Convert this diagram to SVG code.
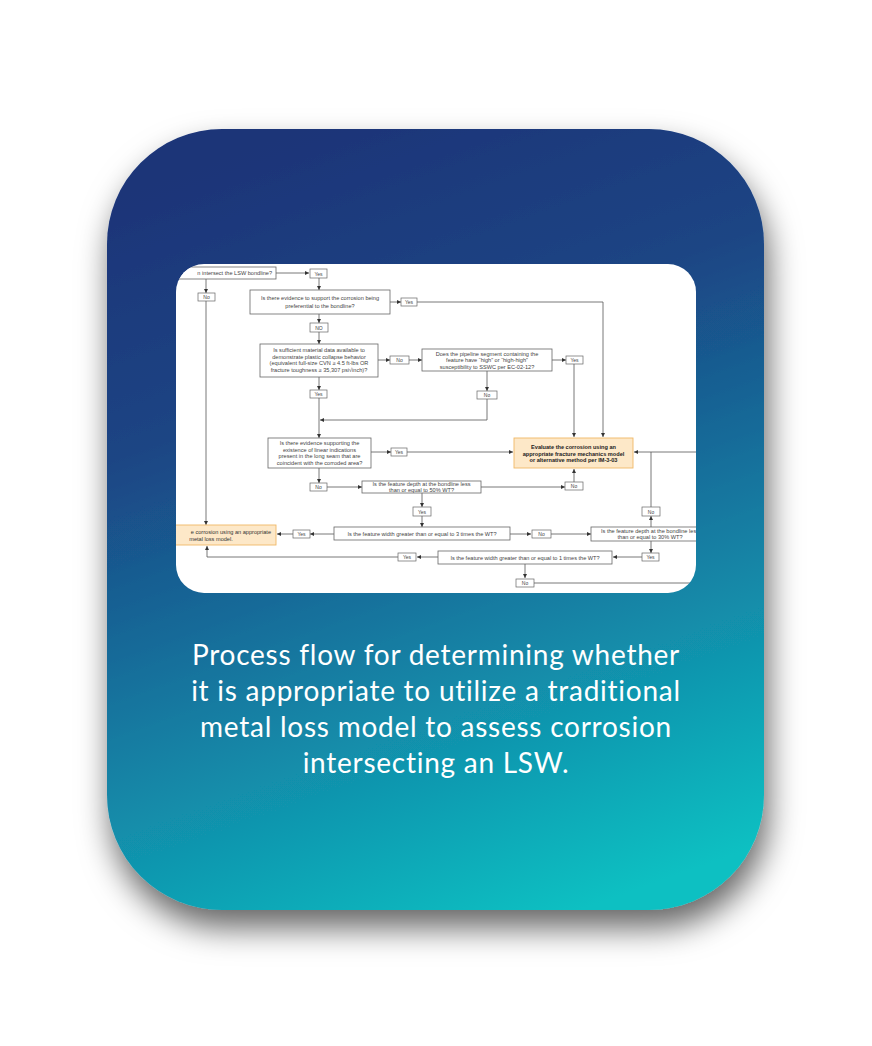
<svg xmlns="http://www.w3.org/2000/svg" width="872" height="1046" viewBox="0 0 872 1046">
<defs>
<linearGradient id="bg" gradientUnits="userSpaceOnUse" x1="300" y1="129" x2="580" y2="910">
<stop offset="0" stop-color="#1b3478"/>
<stop offset="0.3" stop-color="#1b4584"/>
<stop offset="0.55" stop-color="#176f9b"/>
<stop offset="0.8" stop-color="#109bb1"/>
<stop offset="1" stop-color="#0cc0c2"/>
</linearGradient>
<filter id="sh" x="-20%" y="-20%" width="140%" height="140%">
<feDropShadow dx="4" dy="18" stdDeviation="16" flood-color="#000" flood-opacity="0.6"/>
</filter>
<clipPath id="clip"><rect x="176" y="264" width="520" height="329" rx="28"/></clipPath>
<marker id="a" viewBox="0 0 6 6" refX="6" refY="3" markerUnits="userSpaceOnUse" markerWidth="4" markerHeight="4" orient="auto"><path d="M0,0L6,3L0,6z" fill="#333"/></marker>
</defs>
<style>
.box{fill:#fff;stroke:#666;stroke-width:0.8}
.lb{fill:#fff;stroke:#666;stroke-width:0.7}
.or{fill:#fde8c8;stroke:#f0b866;stroke-width:0.9}
.t{font-family:"Liberation Sans",Arial,sans-serif;font-size:5.6px;fill:#444;text-anchor:middle}
.s{font-family:"Liberation Sans",Arial,sans-serif;font-size:5px;fill:#444;text-anchor:middle}
.b{font-family:"Liberation Sans",Arial,sans-serif;font-size:5.6px;fill:#222;font-weight:bold;text-anchor:middle}
.c{fill:none;stroke:#555;stroke-width:0.8}
.ca{fill:none;stroke:#555;stroke-width:0.8;marker-end:url(#a)}
.cap{font-family:Lato,"Open Sans",sans-serif;font-size:28px;letter-spacing:0.75px;fill:#fff;text-anchor:middle}
</style>

<rect id="card" x="107" y="129" width="657" height="781" rx="115" fill="url(#bg)" filter="url(#sh)"/>

<g id="flow" clip-path="url(#clip)">
<rect x="176" y="264" width="520" height="329" fill="#fff"/>

<g id="connectors">
<path class="ca" d="M276,273H309"/>
<path class="ca" d="M319,278V290"/>
<path class="ca" d="M206,279V293"/>
<path class="ca" d="M206,301V525"/>
<path class="ca" d="M390,302H401"/>
<path class="ca" d="M417,302H603V437"/>
<path class="ca" d="M319,314V323"/>
<path class="ca" d="M319,332V344"/>
<path class="ca" d="M378,360H390"/>
<path class="ca" d="M409,360H422"/>
<path class="ca" d="M552,360H566"/>
<path class="ca" d="M574,364V437"/>
<path class="ca" d="M487,371V391"/>
<path class="ca" d="M487,399V420H320"/>
<path class="ca" d="M319,377V390"/>
<path class="ca" d="M319,398V438"/>
<path class="ca" d="M371,452H391"/>
<path class="ca" d="M407,452H513"/>
<path class="ca" d="M700,452H634"/>
<path class="c" d="M651,507V452"/>
<path class="ca" d="M651,527V516"/>
<path class="ca" d="M319,468V483"/>
<path class="ca" d="M327,487H362"/>
<path class="ca" d="M481,487H565"/>
<path class="ca" d="M574,482V469"/>
<path class="ca" d="M422,493V507"/>
<path class="ca" d="M422,516V527"/>
<path class="ca" d="M334,534H310"/>
<path class="ca" d="M293,534H277"/>
<path class="ca" d="M510,534H531"/>
<path class="ca" d="M551,534H591"/>
<path class="ca" d="M651,541V553"/>
<path class="ca" d="M642,557H613"/>
<path class="ca" d="M438,557H417"/>
<path class="ca" d="M398,557H207V546"/>
<path class="ca" d="M525,564V578"/>
<path class="c" d="M534,583H700"/>
</g>

<g id="n1"><rect class="box" x="140" y="267" width="136" height="12"/><text class="t" x="272" y="275" style="text-anchor:end">n intersect the LSW bondline?</text></g>
<g id="y1"><rect class="lb" x="310" y="269" width="17" height="9"/><text class="s" x="318.5" y="275.5">Yes</text></g>
<g id="no1"><rect class="lb" x="198" y="293" width="17" height="8"/><text class="s" x="206.5" y="299">No</text></g>
<g id="n2"><rect class="box" x="250" y="290" width="140" height="24"/><text class="t" x="320" y="300">Is there evidence to support the corrosion being</text><text class="t" x="320" y="307.5">preferential to the bondline?</text></g>
<g id="y2"><rect class="lb" x="401" y="298" width="16" height="8"/><text class="s" x="409" y="304">Yes</text></g>
<g id="no2"><rect class="lb" x="310" y="323" width="18" height="9"/><text class="s" x="319" y="329.5">NO</text></g>
<g id="n3"><rect class="box" x="260" y="344" width="118" height="33"/><text class="t" x="319" y="352">Is sufficient material data available to</text><text class="t" x="319" y="358.5">demonstrate plastic collapse behavior</text><text class="t" x="319" y="365">(equivalent full-size CVN ≥ 4.5 ft-lbs OR</text><text class="t" x="319" y="371.5">fracture toughness ≥ 35,307 psi√inch)?</text></g>
<g id="no3"><rect class="lb" x="390" y="356" width="19" height="8"/><text class="s" x="399.5" y="362">No</text></g>
<g id="n4"><rect class="box" x="422" y="349" width="130" height="22"/><text class="t" x="487" y="355.5">Does the pipeline segment containing the</text><text class="t" x="487" y="362">feature have “high” or “high-high”</text><text class="t" x="487" y="368.5">susceptibility to SSWC per EC-02-12?</text></g>
<g id="y3"><rect class="lb" x="566" y="356" width="17" height="8"/><text class="s" x="574.5" y="362">Yes</text></g>
<g id="no4"><rect class="lb" x="477" y="391" width="20" height="8"/><text class="s" x="487" y="397">No</text></g>
<g id="y4"><rect class="lb" x="310" y="390" width="17" height="8"/><text class="s" x="318.5" y="396">Yes</text></g>
<g id="n5"><rect class="box" x="268" y="438" width="103" height="30"/><text class="t" x="319.5" y="445">Is there evidence supporting the</text><text class="t" x="319.5" y="451.5">existence of linear indications</text><text class="t" x="319.5" y="458">present in the long seam that are</text><text class="t" x="319.5" y="464.5">coincident with the corroded area?</text></g>
<g id="y5"><rect class="lb" x="391" y="448" width="16" height="8"/><text class="s" x="399" y="454">Yes</text></g>
<g id="eval"><rect class="or" x="514" y="438" width="119" height="30"/><text class="b" x="573.5" y="449">Evaluate the corrosion using an</text><text class="b" x="573.5" y="455.5">appropriate fracture mechanics model</text><text class="b" x="573.5" y="462">or alternative method per IM-3-03</text></g>
<g id="no5"><rect class="lb" x="310" y="483" width="17" height="8"/><text class="s" x="318.5" y="489">No</text></g>
<g id="n7"><rect class="box" x="362" y="481" width="119" height="12"/><text class="t" x="421.5" y="486">Is the feature depth at the bondline less</text><text class="t" x="421.5" y="491.5">than or equal to 50% WT?</text></g>
<g id="no6"><rect class="lb" x="565" y="482" width="18" height="8"/><text class="s" x="574" y="488">No</text></g>
<g id="y6"><rect class="lb" x="413" y="507" width="18" height="9"/><text class="s" x="422" y="513.5">Yes</text></g>
<g id="n8"><rect class="box" x="334" y="527" width="176" height="13"/><text class="t" x="422" y="535.5">Is the feature width greater than or equal to 3 times the WT?</text></g>
<g id="y7"><rect class="lb" x="293" y="530" width="17" height="8"/><text class="s" x="301.5" y="536">Yes</text></g>
<g id="metal"><rect class="or" x="140" y="525" width="136" height="20"/><text class="b" x="271" y="533.5" style="text-anchor:end;font-weight:normal;fill:#333">e corrosion using an appropriate</text><text class="b" x="211" y="540.5" style="font-weight:normal;fill:#333">metal loss model.</text></g>
<g id="no7"><rect class="lb" x="532" y="530" width="19" height="8"/><text class="s" x="541.5" y="536">No</text></g>
<g id="n9"><rect class="box" x="591" y="527" width="130" height="14"/><text class="t" x="650" y="533">Is the feature depth at the bondline less</text><text class="t" x="650" y="539">than or equal to 30% WT?</text></g>
<g id="no8"><rect class="lb" x="642" y="507" width="18" height="9"/><text class="s" x="651" y="513.5">No</text></g>
<g id="y8"><rect class="lb" x="642" y="553" width="17" height="8"/><text class="s" x="650.5" y="559">Yes</text></g>
<g id="n10"><rect class="box" x="438" y="551" width="174" height="13"/><text class="t" x="525" y="559.5">Is the feature width greater than or equal to 1 times the WT?</text></g>
<g id="y9"><rect class="lb" x="398" y="553" width="18" height="8"/><text class="s" x="407" y="559">Yes</text></g>
<g id="no9"><rect class="lb" x="516" y="579" width="18" height="8"/><text class="s" x="525" y="585">No</text></g>
</g>

<g id="caption">
<text class="cap" x="436" y="665">Process flow for determining whether</text>
<text class="cap" x="436" y="701">it is appropriate to utilize a traditional</text>
<text class="cap" x="436" y="737">metal loss model to assess corrosion</text>
<text class="cap" x="436" y="773">intersecting an LSW.</text>
</g>
</svg>
